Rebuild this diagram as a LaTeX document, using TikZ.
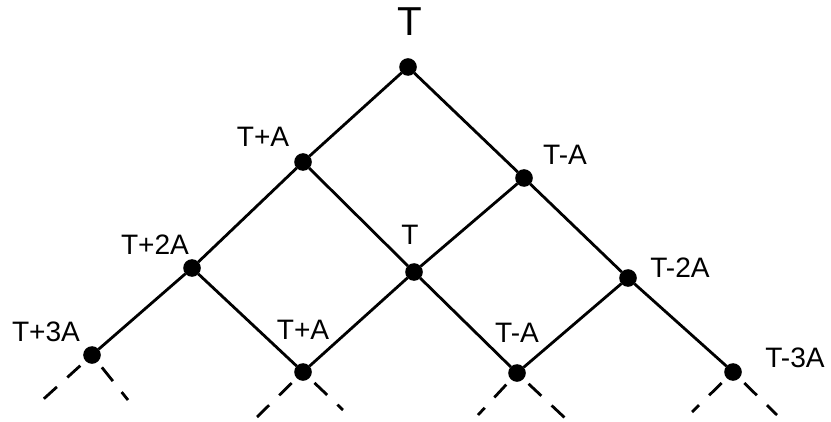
\documentclass[tikz,border=0pt]{standalone}
\usepackage{fontspec}
\setmainfont{Liberation Sans}
\tikzset{
  vertex/.style={circle,draw,fill=black,line width=1pt,inner sep=0pt,minimum size=9pt},
  lbl/.style={font=\fontsize{16}{18}\selectfont,inner sep=0pt},
  edge/.style={line width=1.6pt},
  stub/.style={line width=1.6pt,dash pattern=on 10pt off 8pt,dash phase=-4pt}
}
\begin{document}
\begin{tikzpicture}[x=0.02cm,y=-0.02cm]
        \useasboundingbox (0,0) rectangle (831,422);
        % the tree of nodes
        \node[vertex] (t0) at (408,67) {};
        \node[vertex] (p1) at (303,162) {};
        \node[vertex] (m1) at (524,178) {};
        \node[vertex] (p2) at (192,268) {};
        \node[vertex] (z2) at (414,272) {};
        \node[vertex] (m2) at (628,278) {};
        \node[vertex] (p3) at (92,355) {};
        \node[vertex] (p1b) at (303,372) {};
        \node[vertex] (m1b) at (517,373) {};
        \node[vertex] (m3) at (733,372) {};
        % labels
        \node[lbl,font=\fontsize{23}{26}\selectfont] (lt0) at (410,22) {T};
        \node[lbl] (lp1) at (263,137) {T+A};
        \node[lbl] (lm1) at (565,155) {T-A};
        \node[lbl] (lp2) at (155,245) {T+2A};
        \node[lbl] (lz2) at (410,235) {T};
        \node[lbl] (lm2) at (680,268) {T-2A};
        \node[lbl] (lp3) at (46,332) {T+3A};
        \node[lbl] (lp1b) at (303,330) {T+A};
        \node[lbl] (lm1b) at (517,333) {T-A};
        \node[lbl] (lm3) at (795,358) {T-3A};
        % branches
        \draw[edge] (t0)--(p1) (t0)--(m1);
        \draw[edge] (p1)--(p2) (p1)--(z2) (m1)--(z2) (m1)--(m2);
        \draw[edge] (p2)--(p3) (p2)--(p1b) (z2)--(p1b) (z2)--(m1b) (m2)--(m1b) (m2)--(m3);
        % open ends
        \coordinate (e1) at (37,405); \coordinate (e2) at (128,400);
        \coordinate (e3) at (257,417); \coordinate (e4) at (343,410);
        \coordinate (e5) at (478,415); \coordinate (e6) at (565,418);
        \coordinate (e7) at (692,412); \coordinate (e8) at (777,415);
        \draw[stub] (p3)--(e1) (p3)--(e2) (p1b)--(e3) (p1b)--(e4);
        \draw[stub] (m1b)--(e5) (m1b)--(e6) (m3)--(e7) (m3)--(e8);
      \end{tikzpicture}
\end{document}
